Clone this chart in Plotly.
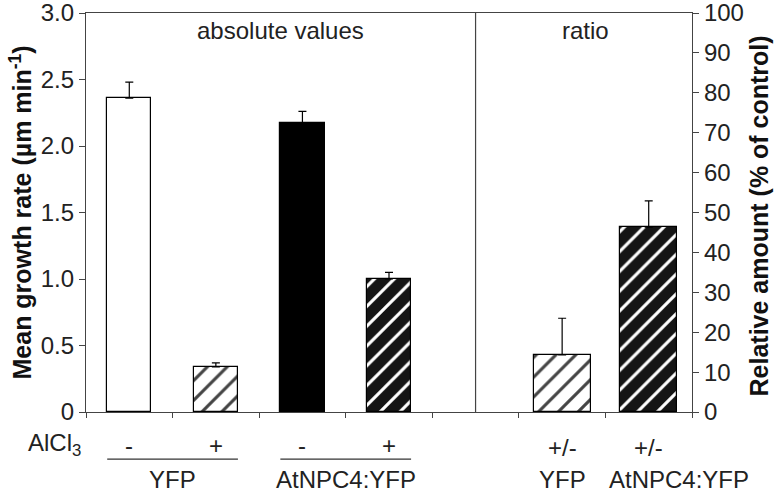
import plotly.graph_objects as go

# Data
abs_labels = ["YFP -", "YFP +", "AtNPC4:YFP -", "AtNPC4:YFP +"]
abs_values = [2.36, 0.34, 2.17, 1.00]
abs_errors = [0.12, 0.03, 0.09, 0.05]
ratio_labels = ["YFP +/-", "AtNPC4:YFP +/-"]
ratio_values = [14.3, 46.3]
ratio_errors = [9.2, 6.6]
left_ticks = [0, 0.5, 1.0, 1.5, 2.0, 2.5, 3.0]
left_ticktext = ["0", "0.5", "1.0", "1.5", "2.0", "2.5", "3.0"]
right_ticks = [0, 10, 20, 30, 40, 50, 60, 70, 80, 90, 100]

abs_pos = [0, 1, 2, 3]
ratio_pos = [5, 6]

FONT = "Liberation Sans"
FS = 24

fig = go.Figure()

abs_fill = ["white", "white", "black", "#151515"]
abs_shape = ["", "/", "", "/"]
abs_fg = ["black", "black", "black", "white"]
fig.add_trace(go.Bar(
    x=abs_pos, y=abs_values, width=0.51,
    marker=dict(color=abs_fill, line=dict(color="black", width=1.2),
                pattern=dict(shape=abs_shape, fgcolor=abs_fg, bgcolor=abs_fill,
                             fgopacity=1, size=14, solidity=0.22, fillmode="overlay")),
    error_y=dict(type="data", array=abs_errors, arrayminus=[0]*4, symmetric=False,
                 color="black", thickness=1.2, width=4),
    showlegend=False, hovertext=abs_labels,
))

ratio_fill = ["white", "#151515"]
ratio_fg = ["black", "white"]
fig.add_trace(go.Bar(
    x=ratio_pos, y=ratio_values, width=0.66, yaxis="y2",
    marker=dict(color=ratio_fill, line=dict(color="black", width=1.2),
                pattern=dict(shape=["/", "/"], fgcolor=ratio_fg, bgcolor=ratio_fill,
                             fgopacity=1, size=14, solidity=0.22, fillmode="overlay")),
    error_y=dict(type="data", array=ratio_errors, arrayminus=[0]*2, symmetric=False,
                 color="black", thickness=1.2, width=4),
    showlegend=False, hovertext=ratio_labels,
))

fig.update_layout(
    width=777, height=493,
    margin=dict(l=86, r=85, t=13, b=81, autoexpand=False),
    plot_bgcolor="white", paper_bgcolor="white",
    font=dict(family=FONT, size=FS, color="#222"),
    bargap=0,
    xaxis=dict(range=[-0.5, 6.5], tickvals=[-0.5, 0.5, 1.5, 2.5, 3.5, 4.5, 5.5, 6.5],
               showticklabels=False, ticks="outside", ticklen=5, tickcolor="#444",
               showline=True, linecolor="#444", linewidth=1.2, mirror=True,
               showgrid=False, zeroline=False, automargin=False),
    yaxis=dict(range=[0, 3.0], tickvals=left_ticks, ticktext=left_ticktext,
               ticks="outside", ticklen=6, tickcolor="#444",
               showline=True, linecolor="#444", linewidth=1.2,
               showgrid=False, zeroline=False, automargin=False,
               ticklabeloverflow="allow",
               tickfont=dict(size=FS, family=FONT, color="#222")),
    yaxis2=dict(range=[0, 100], tickvals=right_ticks, overlaying="y", side="right",
                ticks="outside", ticklen=6, tickcolor="#444",
                showline=True, linecolor="#444", linewidth=1.2,
                showgrid=False, zeroline=False, automargin=False,
                ticklabeloverflow="allow",
                tickfont=dict(size=FS, family=FONT, color="#222")),
)

# divider line
fig.add_shape(type="line", xref="x", yref="paper", x0=4, x1=4, y0=0, y1=1,
              line=dict(color="#444", width=1.2))
# group underlines
for x0, x1 in [(-0.255, 1.255), (1.745, 3.255)]:
    fig.add_shape(type="line", xref="x", yref="paper", x0=x0, x1=x1, y0=-0.118, y1=-0.118,
                  line=dict(color="#333", width=1.2))

def A(text, x, y, xref="x", **kw):
    d = dict(text=text, x=x, y=y, xref=xref, yref="paper", showarrow=False,
             xanchor="center", yanchor="middle", font=dict(size=FS))
    d.update(kw)
    return d

ann = []
ann.append(A("absolute values", 1.75, 0.955))
ann.append(A("ratio", 5.27, 0.955))
ann.append(A("AlCl<sub>3</sub>", -0.005, -0.082, xref="paper", xanchor="right"))
for xp, t in zip(abs_pos, ["-", "+", "-", "+"]):
    ann.append(A(t, xp, -0.083))
for xp in ratio_pos:
    ann.append(A("+/-", xp, -0.088))
ann.append(A("YFP", 0.5, -0.168))
ann.append(A("AtNPC4:YFP", 2.5, -0.168))
ann.append(A("YFP", 5.0, -0.168))
ann.append(A("AtNPC4:YFP", 6.35, -0.168))
ann.append(A("<b>Mean growth rate (µm min<sup>-1</sup>)</b>", 0, 0.5, xref="paper",
             textangle=-90, xshift=-66, font=dict(size=25, color="#111")))
ann.append(A("<b>Relative amount (% of control)</b>", 1.0, 0.49, xref="paper",
             textangle=-90, xshift=67, font=dict(size=25, color="#111")))
fig.update_layout(annotations=ann)

fig.write_html("out.html", config={"displayModeBar": False},
               post_script="document.body.style.margin='0';document.body.style.padding='0';")
